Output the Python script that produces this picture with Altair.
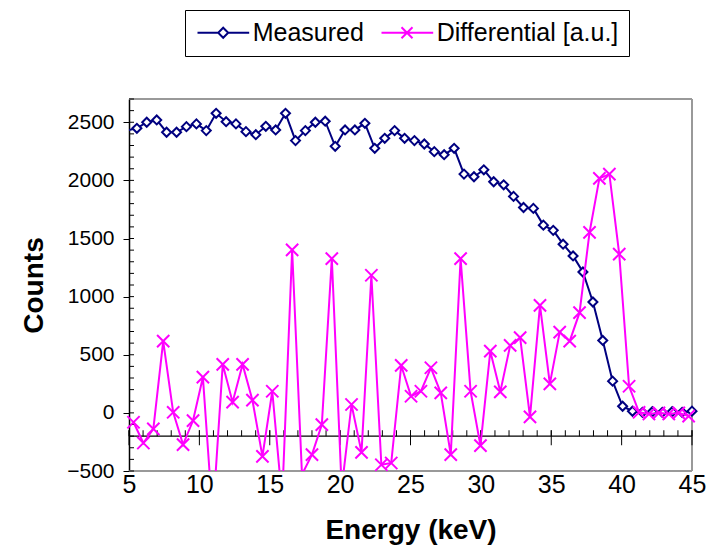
import altair as alt
import pandas as pd

# ---------------- data ----------------
measured_energy = [4.86, 5.56, 6.26, 6.97, 7.67, 8.38, 9.08, 9.79, 10.49, 11.19, 11.90,
                   12.60, 13.31, 14.01, 14.72, 15.42, 16.12, 16.83, 17.53, 18.24, 18.94,
                   19.65, 20.35, 21.05, 21.76, 22.46, 23.17, 23.87, 24.58, 25.28, 25.98,
                   26.69, 27.39, 28.10, 28.80, 29.51, 30.21, 30.91, 31.62, 32.32, 33.03,
                   33.73, 34.44, 35.14, 35.84, 36.55, 37.25, 37.96, 38.66, 39.36, 40.07,
                   40.77, 41.48, 42.18, 42.89, 43.59, 44.30, 45.00]
measured_counts = [2430, 2448, 2500, 2520, 2414, 2414, 2462, 2486, 2428, 2577, 2505,
                   2486, 2419, 2393, 2465, 2434, 2577, 2342, 2428, 2500, 2509,
                   2293, 2434, 2434, 2491, 2276, 2362, 2428, 2362, 2342, 2313,
                   2247, 2221, 2276, 2054, 2031, 2091, 1988, 1962, 1862, 1767,
                   1759, 1615, 1570, 1451, 1350, 1212, 954, 623, 273, 57,
                   14, 5, 10, 5, 10, 5, 15]

diff_energy = [5.32, 6.02, 6.73, 7.43, 8.14, 8.84, 9.55, 10.25, 10.95, 11.66,
               12.36, 13.07, 13.77, 14.48, 15.18, 15.88, 16.59, 17.29, 18.00, 18.70,
               19.41, 20.11, 20.81, 21.52, 22.22, 22.93, 23.63, 24.34, 25.04, 25.74,
               26.45, 27.15, 27.86, 28.56, 29.27, 29.97, 30.67, 31.38, 32.08, 32.79,
               33.49, 34.20, 34.90, 35.60, 36.31, 37.01, 37.72, 38.42, 39.13, 39.83,
               40.53, 41.24, 41.94, 42.65, 43.35, 44.06, 44.76]
diff_values = [-81, -259, -138, 617, 5, -273, -66, 307, -900, 417,
               92, 417, 109, -374, 186, -750, 1402, -530, -359, -101,
               1327, -650, 72, -340, 1184, -446, -431, 408, 143, 186,
               388, 172, -359, 1327, 186, -282, 531, 181, 580, 647,
               -34, 925, 250, 695, 617, 862, 1552, 2017, 2054, 1365,
               229, 5, -10, 0, -10, 0, -28]

series_names = ["Measured", "Differential [a.u.]"]
x_major_ticks = [5, 10, 15, 20, 25, 30, 35, 40, 45]
x_minor_ticks = list(range(5, 46))
y_label_values = [-500, 0, 500, 1000, 1500, 2000, 2500]
y_minor_ticks = list(range(-500, 2701, 100))
X_DOMAIN = [5, 45]
Y_DOMAIN = [-500, 2700]
AXIS_CROSS = -200

# ---------------- styling ----------------
FONT = "Liberation Sans"
NAVY = "#000080"
MAGENTA = "#FF00FF"
FRAME = "#999999"
X_SHAPE = "M-1,-1L1,1M-1,1L1,-1"
LEG_MEASURED = "M-1,0H1.07M2.07,0H4.17M1.57,-0.5L2.07,0L1.57,0.5L1.07,0Z"
LEG_DIFF = "M-1,0H4.17M1.0,-0.55L2.1,0.55M1.0,0.55L2.1,-0.55"

dm = pd.DataFrame({"energy": measured_energy, "counts": measured_counts})
dd = pd.DataFrame({"energy": diff_energy, "counts": diff_values})
d_xmaj = pd.DataFrame({"energy": x_major_ticks, "counts": [AXIS_CROSS] * len(x_major_ticks)})
d_xmin = pd.DataFrame({"energy": x_minor_ticks, "counts": [AXIS_CROSS] * len(x_minor_ticks)})
d_ymin = pd.DataFrame({"energy": [X_DOMAIN[0]] * len(y_minor_ticks), "counts": y_minor_ticks})
d_cross = pd.DataFrame({"energy": X_DOMAIN, "counts": [AXIS_CROSS, AXIS_CROSS]})
d_hframe = pd.DataFrame({"counts": Y_DOMAIN})
d_vframe = pd.DataFrame({"energy": [X_DOMAIN[1]]})
d_leg = pd.DataFrame({"series": series_names, "energy": [10, 10], "counts": [0, 0]})

x_enc = alt.X(
    "energy:Q",
    scale=alt.Scale(domain=X_DOMAIN, nice=False, zero=False),
    axis=alt.Axis(
        values=x_major_ticks, title="Energy (keV)", domain=False, ticks=False, grid=False,
        labelFont=FONT, labelFontSize=25, labelColor="black", labelPadding=1,
        labelFlush=False, labelOverlap=False,
        titleFont=FONT, titleFontSize=28, titleFontWeight="bold", titleColor="black",
        titleY=67, titleBaseline="alphabetic",
    ),
)
y_enc = alt.Y(
    "counts:Q",
    scale=alt.Scale(domain=Y_DOMAIN, nice=False, zero=False),
    axis=alt.Axis(
        values=y_label_values, title="Counts", grid=False, format="d",
        domainColor="black", domainWidth=1.5, tickColor="black", tickSize=6, tickWidth=1,
        labelFont=FONT, labelFontSize=21, labelColor="black", labelPadding=9,
        labelFlush=False, labelOverlap=False,
        titleFont=FONT, titleFontSize=28, titleFontWeight="bold", titleColor="black",
        titleAngle=270, titleX=-87, titleY=186, titleBaseline="alphabetic", titleAlign="center",
    ),
)

hframe = alt.Chart(d_hframe).mark_rule(color=FRAME, strokeWidth=2).encode(y=y_enc)
vframe = alt.Chart(d_vframe).mark_rule(color=FRAME, strokeWidth=2).encode(x=x_enc)

cross_line = alt.Chart(d_cross).mark_line(color="black", strokeWidth=1.3).encode(x=x_enc, y=y_enc)
xmaj = alt.Chart(d_xmaj).mark_tick(orient="vertical", size=15, thickness=1, color="black",
                                   yOffset=1.5, opacity=1).encode(x=x_enc, y=y_enc)
xmin = alt.Chart(d_xmin).mark_tick(orient="vertical", size=6, thickness=1, color="black",
                                   yOffset=-3, opacity=1).encode(x=x_enc, y=y_enc)
ymin = alt.Chart(d_ymin).mark_tick(orient="horizontal", size=5, thickness=1, color="black",
                                   xOffset=2.5, opacity=1).encode(x=x_enc, y=y_enc)

m_line = alt.Chart(dm).mark_line(color=NAVY, strokeWidth=2, clip=True).encode(x=x_enc, y=y_enc)
m_pts = alt.Chart(dm).transform_filter(
    (alt.datum.energy >= X_DOMAIN[0]) & (alt.datum.counts >= Y_DOMAIN[0])
).mark_point(shape="diamond", size=81, filled=True, fill="white", stroke=NAVY,
             strokeWidth=2, opacity=1).encode(x=x_enc, y=y_enc)

d_line = alt.Chart(dd).mark_line(color=MAGENTA, strokeWidth=2, clip=True).encode(x=x_enc, y=y_enc)
d_pts = alt.Chart(dd).transform_filter(
    alt.datum.counts >= Y_DOMAIN[0]
).mark_point(shape=X_SHAPE, size=150, filled=False, stroke=MAGENTA,
             strokeWidth=2, opacity=1).encode(x=x_enc, y=y_enc)

legend_def = alt.Legend(
    title=None, orient="none", legendX=56, legendY=-89, direction="horizontal",
)
legend_layer = alt.Chart(d_leg).transform_filter("false").mark_point(
    filled=False, strokeWidth=2, size=400
).encode(
    x=x_enc, y=y_enc,
    color=alt.Color("series:N", scale=alt.Scale(domain=series_names, range=[NAVY, MAGENTA]),
                    legend=legend_def),
    shape=alt.Shape("series:N", scale=alt.Scale(domain=series_names, range=[LEG_MEASURED, LEG_DIFF]),
                    legend=legend_def),
)

chart = alt.layer(
    hframe, vframe, cross_line, xmin, xmaj, ymin, m_line, m_pts, d_line, d_pts, legend_layer
).properties(
    width=563, height=372,
    autosize=alt.AutoSizeParams(type="none"),
    padding={"left": 129, "top": 99, "right": 23, "bottom": 74},
    background="white",
).configure_view(
    stroke=None
).configure_legend(
    labelFont=FONT, labelFontSize=25, labelColor="black", labelLimit=400,
    labelOffset=32.7, columnPadding=13, padding=10,
    strokeColor="black", strokeWidth=1, fillColor="white", cornerRadius=0,
    symbolSize=400, symbolStrokeWidth=2, symbolOpacity=1,
)

chart.save("out.html", embed_options={"renderer": "svg", "actions": False})
